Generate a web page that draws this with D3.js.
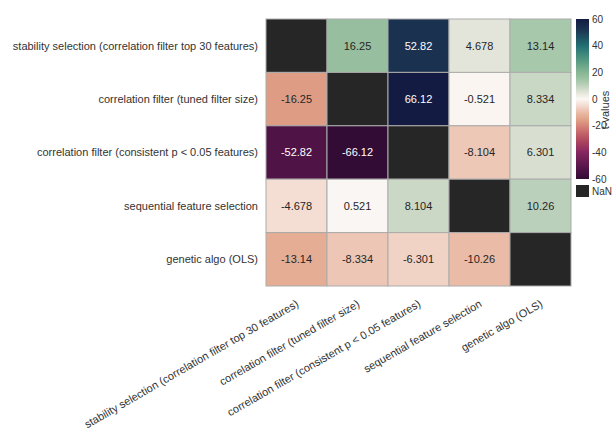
<!DOCTYPE html>
<html>
<head>
<meta charset="utf-8">
<script src="https://cdn.jsdelivr.net/npm/d3@7"></script>
<style>
  body { margin: 0; background: #fff; }
  text { font-family: "Liberation Sans", Arial, sans-serif; }
</style>
</head>
<body>
<div id="chart"></div>
<script>
// methods compared (rows and columns share the same order)
const methods = [
  "stability selection (correlation filter top 30 features)",
  "correlation filter (tuned filter size)",
  "correlation filter (consistent p < 0.05 features)",
  "sequential feature selection",
  "genetic algo (OLS)"
];

// t-values, one array per row (null = NaN on the diagonal)
const rowStability = [null, 16.25, 52.82, 4.678, 13.14];
const rowTuned = [-16.25, null, 66.12, -0.521, 8.334];
const rowConsistent = [-52.82, -66.12, null, -8.104, 6.301];
const rowSequential = [-4.678, 0.521, 8.104, null, 10.26];
const rowGenetic = [-13.14, -8.334, -6.301, -10.26, null];
const rows = [rowStability, rowTuned, rowConsistent, rowSequential, rowGenetic];

const colorTicks = [60, 40, 20, 0, -20, -40, -60];

const width = 613, height = 434;
const margin = {top: 19, left: 266};
const gridW = 305, gridH = 267;

const svg = d3.select("#chart")
  .append("svg")
    .attr("width", width)
    .attr("height", height);

const g = svg.append("g")
  .attr("transform", `translate(${margin.left},${margin.top})`);

const x = d3.scaleBand().domain(d3.range(methods.length)).range([0, gridW]);
const y = d3.scaleBand().domain(d3.range(methods.length)).range([0, gridH]);

// diverging colormap, approximating cmocean "curl" reversed
const color = d3.scaleLinear()
  .domain([-60, -52, -40, -30, -20, -15, -10, -5, 0, 5, 10, 15, 20, 30, 40, 52, 60])
  .range(["#330c35", "#531448", "#862660", "#b44c5e", "#d6857a", "#e2a488", "#eabca8", "#f3dbd0",
          "#fcf8f6", "#e2e4d8", "#bdd1bb", "#9cc2a3", "#86b694", "#4f9680", "#226e72", "#1c3452", "#141b42"])
  .clamp(true);

const cells = [];
rows.forEach((r, i) => r.forEach((v, j) => cells.push({i, j, v})));

// Cells
g.selectAll("rect.cell")
  .data(cells)
  .enter()
  .append("rect")
    .attr("class", "cell")
    .attr("x", d => x(d.j))
    .attr("y", d => y(d.i))
    .attr("width", x.bandwidth())
    .attr("height", y.bandwidth())
    .attr("fill", d => d.v === null ? "#262626" : color(d.v))
    .attr("stroke", "#ababab")
    .attr("stroke-width", 1);

// Cell labels
g.selectAll("text.val")
  .data(cells.filter(d => d.v !== null))
  .enter()
  .append("text")
    .attr("class", "val")
    .attr("x", d => x(d.j) + x.bandwidth() / 2)
    .attr("y", d => y(d.i) + y.bandwidth() / 2)
    .attr("dy", "0.35em")
    .attr("text-anchor", "middle")
    .style("font-size", "11px")
    .attr("fill", d => Math.abs(d.v) > 40 ? "#ffffff" : "#262626")
    .text(d => String(d.v));

// Row labels
g.selectAll("text.rowlab")
  .data(methods)
  .enter()
  .append("text")
    .attr("class", "rowlab")
    .attr("x", -8)
    .attr("y", (d, i) => y(i) + y.bandwidth() / 2)
    .attr("dy", "0.35em")
    .attr("text-anchor", "end")
    .style("font-size", "11px")
    .attr("fill", "#333")
    .text(d => d);

// Column labels (rotated)
g.selectAll("text.collab")
  .data(methods)
  .enter()
  .append("text")
    .attr("class", "collab")
    .attr("transform", (d, i) => `translate(${x(i) + x.bandwidth() / 2 + 3},${gridH + 20}) rotate(-30)`)
    .attr("text-anchor", "end")
    .style("font-size", "11px")
    .attr("fill", "#333")
    .text(d => d);

// Colorbar
const cbX = 576, cbW = 13, cbTop = 19, cbBottom = 179;
const cy = d3.scaleLinear().domain([-60, 60]).range([cbBottom, cbTop]);

const grad = svg.append("defs").append("linearGradient")
  .attr("id", "cbgrad")
  .attr("x1", 0).attr("y1", 1).attr("x2", 0).attr("y2", 0);
d3.range(-60, 61, 4).forEach(v => {
  grad.append("stop")
    .attr("offset", (v + 60) / 120)
    .attr("stop-color", color(v));
});

svg.append("rect")
  .attr("x", cbX)
  .attr("y", cbTop)
  .attr("width", cbW)
  .attr("height", cbBottom - cbTop)
  .attr("fill", "url(#cbgrad)");

svg.append("g")
  .attr("transform", `translate(${cbX + cbW},0)`)
  .call(d3.axisRight(cy).tickValues(colorTicks).tickSize(0).tickPadding(3).tickFormat(d => String(d)))
  .call(a => a.select(".domain").remove())
  .selectAll("text")
    .style("font-family", "'Liberation Sans', Arial, sans-serif")
    .style("font-size", "10px")
    .attr("fill", "#333");

// NaN swatch
svg.append("rect")
  .attr("x", cbX)
  .attr("y", 185)
  .attr("width", cbW)
  .attr("height", 12)
  .attr("fill", "#262626");
svg.append("text")
  .attr("x", cbX + cbW + 3)
  .attr("y", 191)
  .attr("dy", "0.35em")
  .style("font-size", "10px")
  .attr("fill", "#333")
  .text("NaN");

svg.append("text")
  .attr("transform", `translate(609,110) rotate(-90)`)
  .attr("text-anchor", "middle")
  .style("font-size", "11px")
  .attr("fill", "#333")
  .text("t-values");
</script>
</body>
</html>
